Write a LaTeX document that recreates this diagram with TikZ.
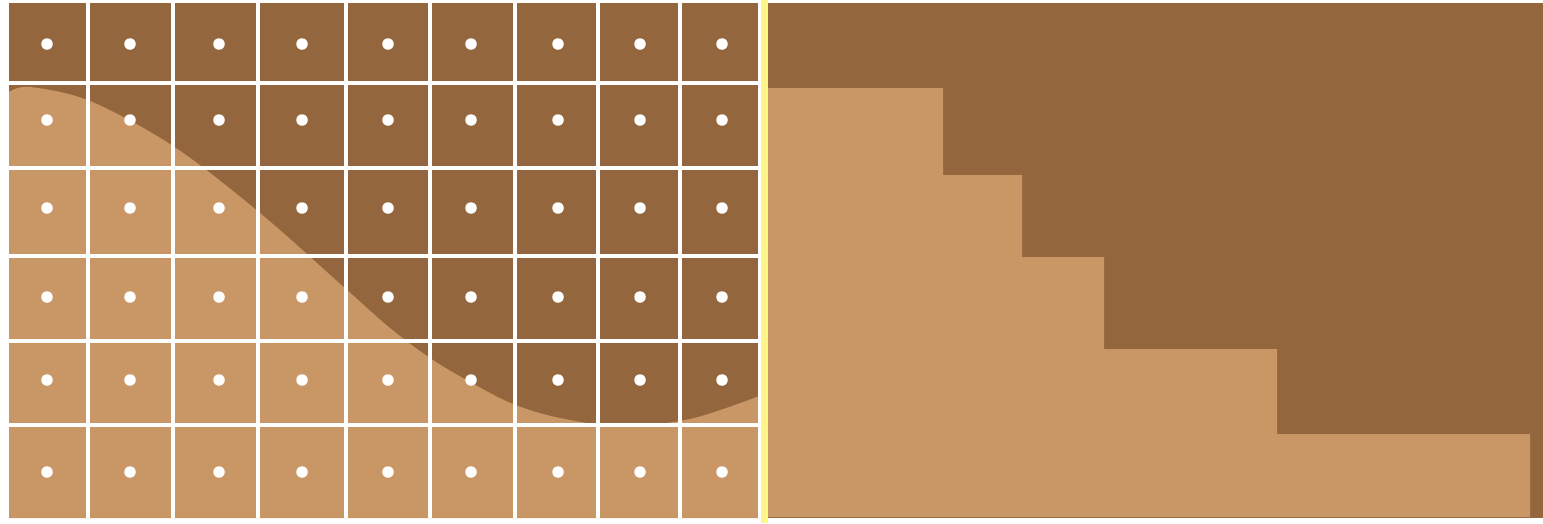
\documentclass[tikz,border=0pt]{standalone}
\usetikzlibrary{positioning}
\definecolor{soilDark}{HTML}{94663E}
\definecolor{soilLight}{HTML}{C99766}
\definecolor{edgeYellow}{HTML}{FFF68A}

\begin{document}
\begin{tikzpicture}[
    x=0.01cm, y=-0.01cm,
    dot/.style={circle, fill=white, inner sep=0pt, minimum size=0.115cm},
    gridline/.style={draw=white, line width=0.95pt},
    darksoil/.style={fill=soilDark},
    lightsoil/.style={fill=soilLight}
]
\useasboundingbox (0,0) rectangle (1543,523);

% sampled field
\fill[darksoil] (9,3) rectangle (762,518);
\fill[lightsoil] (9,518) -- (9,95) -- plot[smooth, tension=0.55] coordinates {(9,92) (30,87) (90,101) (173,146) (260,213) (347,290) (390,328) (430,358) (470,382) (513,404) (560,418) (620,426) (690,419) (762,395)} -- (762,518) -- cycle;
\foreach \gx in {88,173,258,346,430,515,598,680,760}
    \draw[gridline] (\gx,3) -- (\gx,518);
\foreach \gy in {83,168,256,341,425}
    \draw[gridline] (9,\gy) -- (762,\gy);
\foreach \px [count=\i] in {47,130,219,302,388,471,558,640,722}
    \foreach \py [count=\j] in {44,120,208,297,380,472}
        \node (dot-\i-\j) [dot] at (\px,\py) {};

% staircase
\fill[darksoil] (768,3) rectangle (1543,518);
\fill[lightsoil] (768,517) -- (768,88) -- (943,88) -- (943,175) -- (1022,175) -- (1022,257)
    -- (1104,257) -- (1104,349) -- (1277,349) -- (1277,434) -- (1530,434) -- (1530,517) -- cycle;

% divider
\fill[edgeYellow] (761,0) rectangle (768,523);

\end{tikzpicture}
\end{document}
